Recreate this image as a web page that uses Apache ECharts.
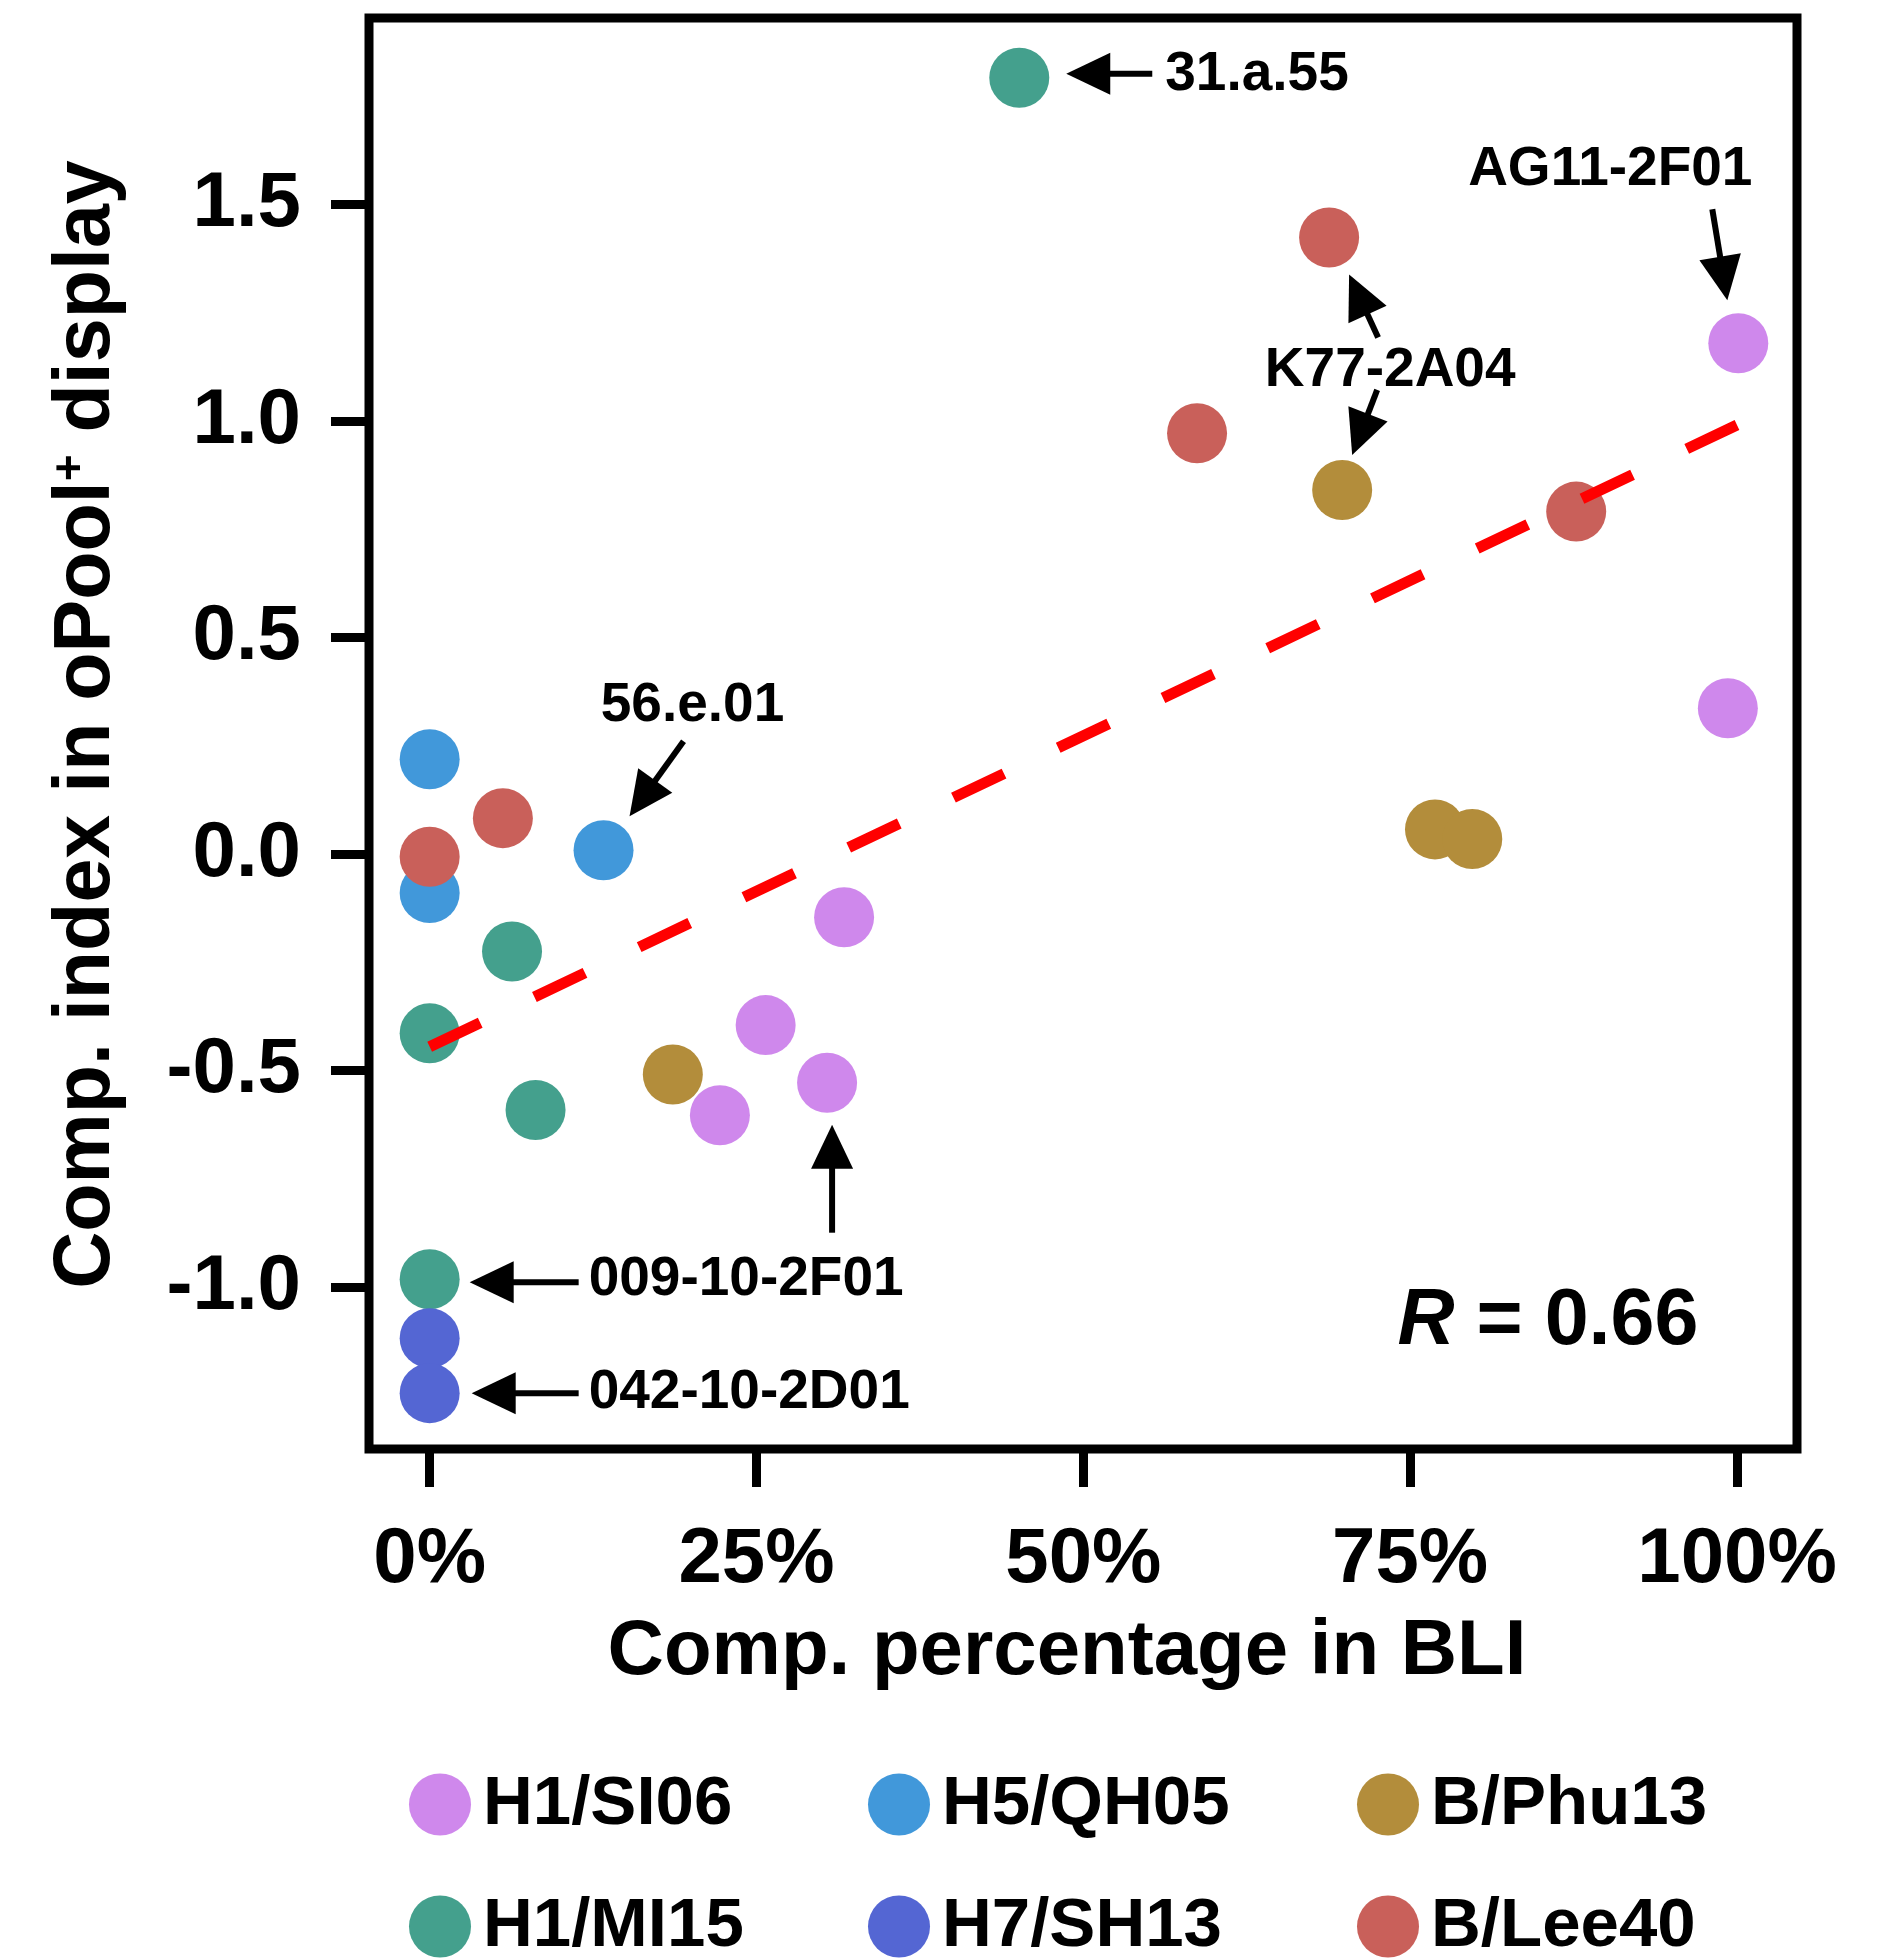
<!DOCTYPE html>
<html>
<head>
<meta charset="utf-8">
<script src="https://cdn.jsdelivr.net/npm/echarts@6/dist/echarts.min.js"></script>
<style>
html, body { margin: 0; padding: 0; background: #fff; }
#chart { width: 1878px; height: 1958px; }
</style>
</head>
<body>
<div id="chart"></div>
<script>
// data: [comp. % in BLI, comp. index]
var h1si06 = [[100.1, 1.18], [99.3, 0.337], [31.7, -0.146], [25.7, -0.395], [30.4, -0.528], [22.2, -0.603]];
var h5qh05 = [[0, 0.219], [0, -0.09], [13.3, 0.009]];
var bphu13 = [[69.8, 0.841], [76.9, 0.057], [79.75, 0.035], [18.6, -0.509]];
var h1mi15 = [[45.1, 1.793], [6.3, -0.225], [0, -0.414], [8.1, -0.591], [0, -0.982]];
var h7sh13 = [[0, -1.118], [0, -1.245]];
var blee40 = [[68.8, 1.424], [58.7, 0.972], [87.7, 0.791], [5.6, 0.083], [0, -0.006]];
var fitLine = [[0, -0.445], [100, 0.991]];
var rValue = '0.66';

var xTicks = [0, 25, 50, 75, 100];
var yTicks = [-1, -0.5, 0, 0.5, 1, 1.5];

// legend order as in the figure (row by row)
var legendNames = ['H1/SI06', 'H5/QH05', 'B/Phu13', 'H1/MI15', 'H7/SH13', 'B/Lee40'];

// labelled antibodies
var labelTexts = ['31.a.55', 'AG11-2F01', 'K77-2A04', '56.e.01', '009-10-2F01', '042-10-2D01'];
var labelTargets = [h1mi15[0], h1si06[0], bphu13[0], h5qh05[2], h1mi15[4], h7sh13[1]];
var arrowTargets = [h1mi15[0], h1si06[0], blee40[0], bphu13[0], h5qh05[2], h1mi15[4], h1si06[4], h7sh13[1]];

// pixel offsets from the target point
var labelOffsets = [[146, -3, 'left'], [-128, -173, 'center'], [48, -119, 'center'], [89, -144, 'center'], [159, 1, 'left'], [159, 0, 'left']];
var arrowOffsets = [[133, -4, 47, -4], [-26, -134, -11, -43], [49, 100, 20, 37], [35, -100, 10, -35],
  [80, -109, 26, -34], [149, 3, 40, 3], [5, 150, 5, 42], [149, 0, 42, 0]];

var FONT = "'Liberation Sans', Arial, Helvetica, sans-serif";
var colors = {
  'H1/SI06': '#cf88ec',
  'H5/QH05': '#4198da',
  'B/Phu13': '#b38d3b',
  'H1/MI15': '#44a08d',
  'H7/SH13': '#5466d3',
  'B/Lee40': '#c9605a'
};

var chart = echarts.init(document.getElementById('chart'));

function scatter(name, data) {
  return {
    name: name,
    type: 'scatter',
    data: data,
    symbolSize: 60,
    itemStyle: { color: colors[name], opacity: 1 },
    emphasis: { disabled: true }
  };
}

var legendPos = [[409, 1770], [868, 1770], [1357, 1770], [409, 1892], [868, 1892], [1357, 1892]];
var legends = legendNames.map(function(n, i) {
  return {
    data: [n],
    left: legendPos[i][0],
    top: legendPos[i][1],
    padding: 0,
    icon: 'circle',
    itemWidth: 76,
    itemHeight: 62,
    selectedMode: false,
    textStyle: { fontSize: 69, fontWeight: 'bold', color: '#000', fontFamily: FONT }
  };
});

var option = {
  animation: false,
  backgroundColor: '#fff',
  grid: {
    left: 369, top: 18, width: 1428, height: 1431,
    show: true, borderColor: '#000', borderWidth: 9, backgroundColor: 'transparent'
  },
  legend: legends,
  xAxis: {
    type: 'value',
    min: -4.64, max: 104.59,
    name: 'Comp. percentage in BLI',
    nameLocation: 'middle',
    nameGap: 164,
    nameTextStyle: { fontSize: 78, fontWeight: 'bold', color: '#000', fontFamily: FONT, padding: [0, 32, 0, 0] },
    axisLine: { show: false, onZero: false },
    axisTick: { show: true, length: 38, customValues: xTicks, lineStyle: { color: '#000', width: 9 } },
    axisLabel: {
      customValues: xTicks, margin: 72, fontSize: 78, fontWeight: 'bold', color: '#000', fontFamily: FONT,
      formatter: function(v) { return v + '%'; }
    },
    splitLine: { show: false }
  },
  yAxis: {
    type: 'value',
    min: -1.374, max: 1.931,
    name: '{a|Comp. index in oPool}{s|+}{a| display}',
    nameLocation: 'middle',
    nameRotate: 90,
    nameGap: 242,
    nameTextStyle: {
      padding: [0, 0, 0, 18],
      rich: {
        a: { fontSize: 79, fontWeight: 'bold', color: '#000', fontFamily: FONT, lineHeight: 79 },
        s: { fontSize: 46, fontWeight: 'bold', color: '#000', fontFamily: FONT, verticalAlign: 'top', lineHeight: 79 }
      }
    },
    axisLine: { show: false, onZero: false },
    axisTick: { show: true, length: 38, customValues: yTicks, lineStyle: { color: '#000', width: 9 } },
    axisLabel: {
      customValues: yTicks, margin: 68, fontSize: 78, fontWeight: 'bold', color: '#000', fontFamily: FONT,
      formatter: function(v) { return v.toFixed(1); }
    },
    splitLine: { show: false }
  },
  series: [
    scatter('H1/SI06', h1si06),
    scatter('H1/MI15', h1mi15),
    scatter('H5/QH05', h5qh05),
    scatter('H7/SH13', h7sh13),
    scatter('B/Phu13', bphu13),
    scatter('B/Lee40', blee40),
    {
      name: 'fit',
      type: 'line',
      data: fitLine,
      symbol: 'none',
      z: 5,
      lineStyle: { color: '#ff0000', width: 11, type: [56, 60] },
      emphasis: { disabled: true }
    }
  ]
};

chart.setOption(option);

// arrows and labels, placed from the points' pixel positions
function arrow(tail, tip) {
  var dx = tip[0] - tail[0], dy = tip[1] - tail[1];
  var len = Math.sqrt(dx * dx + dy * dy);
  var ux = dx / len, uy = dy / len;
  var headLen = 44, headHalf = 21;
  var bx = tip[0] - ux * headLen, by = tip[1] - uy * headLen;
  return [
    { type: 'line', z: 10, shape: { x1: tail[0], y1: tail[1], x2: bx + ux * 3, y2: by + uy * 3 },
      style: { stroke: '#000', lineWidth: 6 } },
    { type: 'polygon', z: 10, shape: { points: [tip, [bx - uy * headHalf, by + ux * headHalf], [bx + uy * headHalf, by - ux * headHalf]] },
      style: { fill: '#000' } }
  ];
}

var graphics = [];
arrowTargets.forEach(function(t, i) {
  var p = chart.convertToPixel({ gridIndex: 0 }, t);
  var o = arrowOffsets[i];
  graphics = graphics.concat(arrow([p[0] + o[0], p[1] + o[1]], [p[0] + o[2], p[1] + o[3]]));
});
labelTexts.forEach(function(txt, i) {
  var p = chart.convertToPixel({ gridIndex: 0 }, labelTargets[i]);
  var o = labelOffsets[i];
  graphics.push({
    type: 'text', z: 11,
    x: p[0] + o[0], y: p[1] + o[1],
    style: {
      text: txt, fill: '#000', font: 'bold 55px ' + FONT,
      align: o[2], verticalAlign: 'middle', textAlign: o[2], textVerticalAlign: 'middle'
    }
  });
});
graphics.push({
  type: 'text', z: 11,
  x: 1548, y: 1322,
  style: {
    text: '{i|R}{n| = ' + rValue + '}',
    align: 'center', verticalAlign: 'middle', textAlign: 'center', textVerticalAlign: 'middle',
    rich: {
      i: { fontSize: 79, fontWeight: 'bold', fontStyle: 'italic', fill: '#000', fontFamily: FONT },
      n: { fontSize: 79, fontWeight: 'bold', fill: '#000', fontFamily: FONT }
    }
  }
});

chart.setOption({ graphic: graphics });
</script>
</body>
</html>
